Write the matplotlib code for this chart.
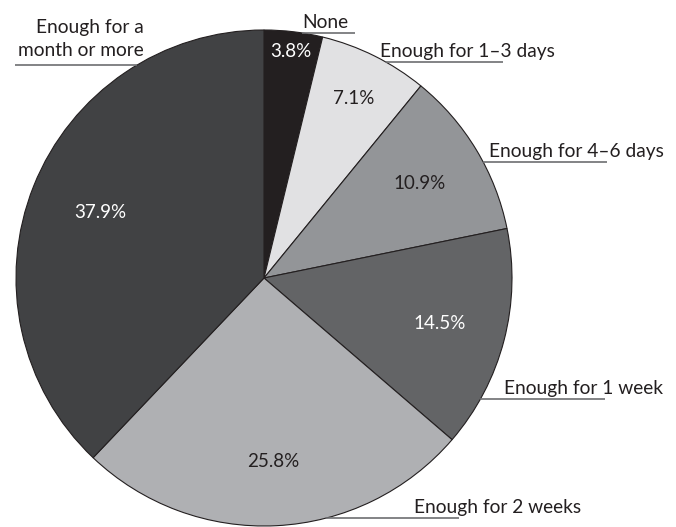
import numpy as np
import matplotlib
matplotlib.use("Agg")
import matplotlib.pyplot as plt

plt.rcParams['font.family'] = ['Lato', 'DejaVu Sans']

# data, clockwise from the top
categories = ["None", "Enough for 1\u20133 days", "Enough for 4\u20136 days",
              "Enough for 1 week", "Enough for 2 weeks", "Enough for a\nmonth or more"]
shares = [3.8, 7.1, 10.9, 14.5, 25.8, 37.9]
pct_labels = ["3.8%", "7.1%", "10.9%", "14.5%", "25.8%", "37.9%"]

colors = ['#231f20', '#e1e1e3', '#939598', '#636466', '#afb0b3', '#414244']
pct_colors = ['white', '#231f20', '#231f20', 'white', '#231f20', 'white']
pct_radius = [0.92, 0.81, 0.735, 0.73, 0.74, 0.71]

W, H = 676, 527
cx, cy, R = 264, 278, 248

fig = plt.figure(figsize=(W / 100, H / 100), dpi=100)
ax = fig.add_axes([0, 0, 1, 1])

wedges, _ = ax.pie(shares, colors=colors, startangle=90, counterclock=False,
                   center=(cx, H - cy), radius=R,
                   wedgeprops=dict(edgecolor='#231f20', linewidth=0.8))

for w, lab, col, rf in zip(wedges, pct_labels, pct_colors, pct_radius):
    ang = np.deg2rad((w.theta1 + w.theta2) / 2)
    ax.text(cx + rf * R * np.cos(ang), H - cy + rf * R * np.sin(ang), lab,
            ha='center', va='center', fontsize=13.5, color=col)

# outer labels: (underline y, line end x, side, text x, text align, text gap)
outer = [
    (33, 355, 'right', 325, 'center', 2),
    (62, 503, 'right', 380, 'left', 2),
    (162, 607, 'right', 489, 'left', 2),
    (399, 605, 'right', 504, 'left', 2),
    (518, 459, 'right', 414, 'left', 2),
    (65, 15, 'left', 144, 'right', 6),
]

for name, (ly, lx, side, tx, ha, gap) in zip(categories, outer):
    dy = cy - ly
    dx = np.sqrt(max(R ** 2 - dy ** 2, 0))
    x0 = cx + dx if side == 'right' else cx - dx
    ax.plot([x0, lx], [H - ly, H - ly], color='#6d6e71', lw=1.2, solid_capstyle='butt')
    ax.text(tx, H - ly + gap, name, ha=ha, va='bottom', fontsize=13.8,
            color='#231f20', linespacing=1.45, multialignment='right')

ax.set_xlim(0, W)
ax.set_ylim(0, H)
ax.set_aspect('auto')
ax.axis('off')

fig.savefig('out.png', dpi=100, facecolor='white')
